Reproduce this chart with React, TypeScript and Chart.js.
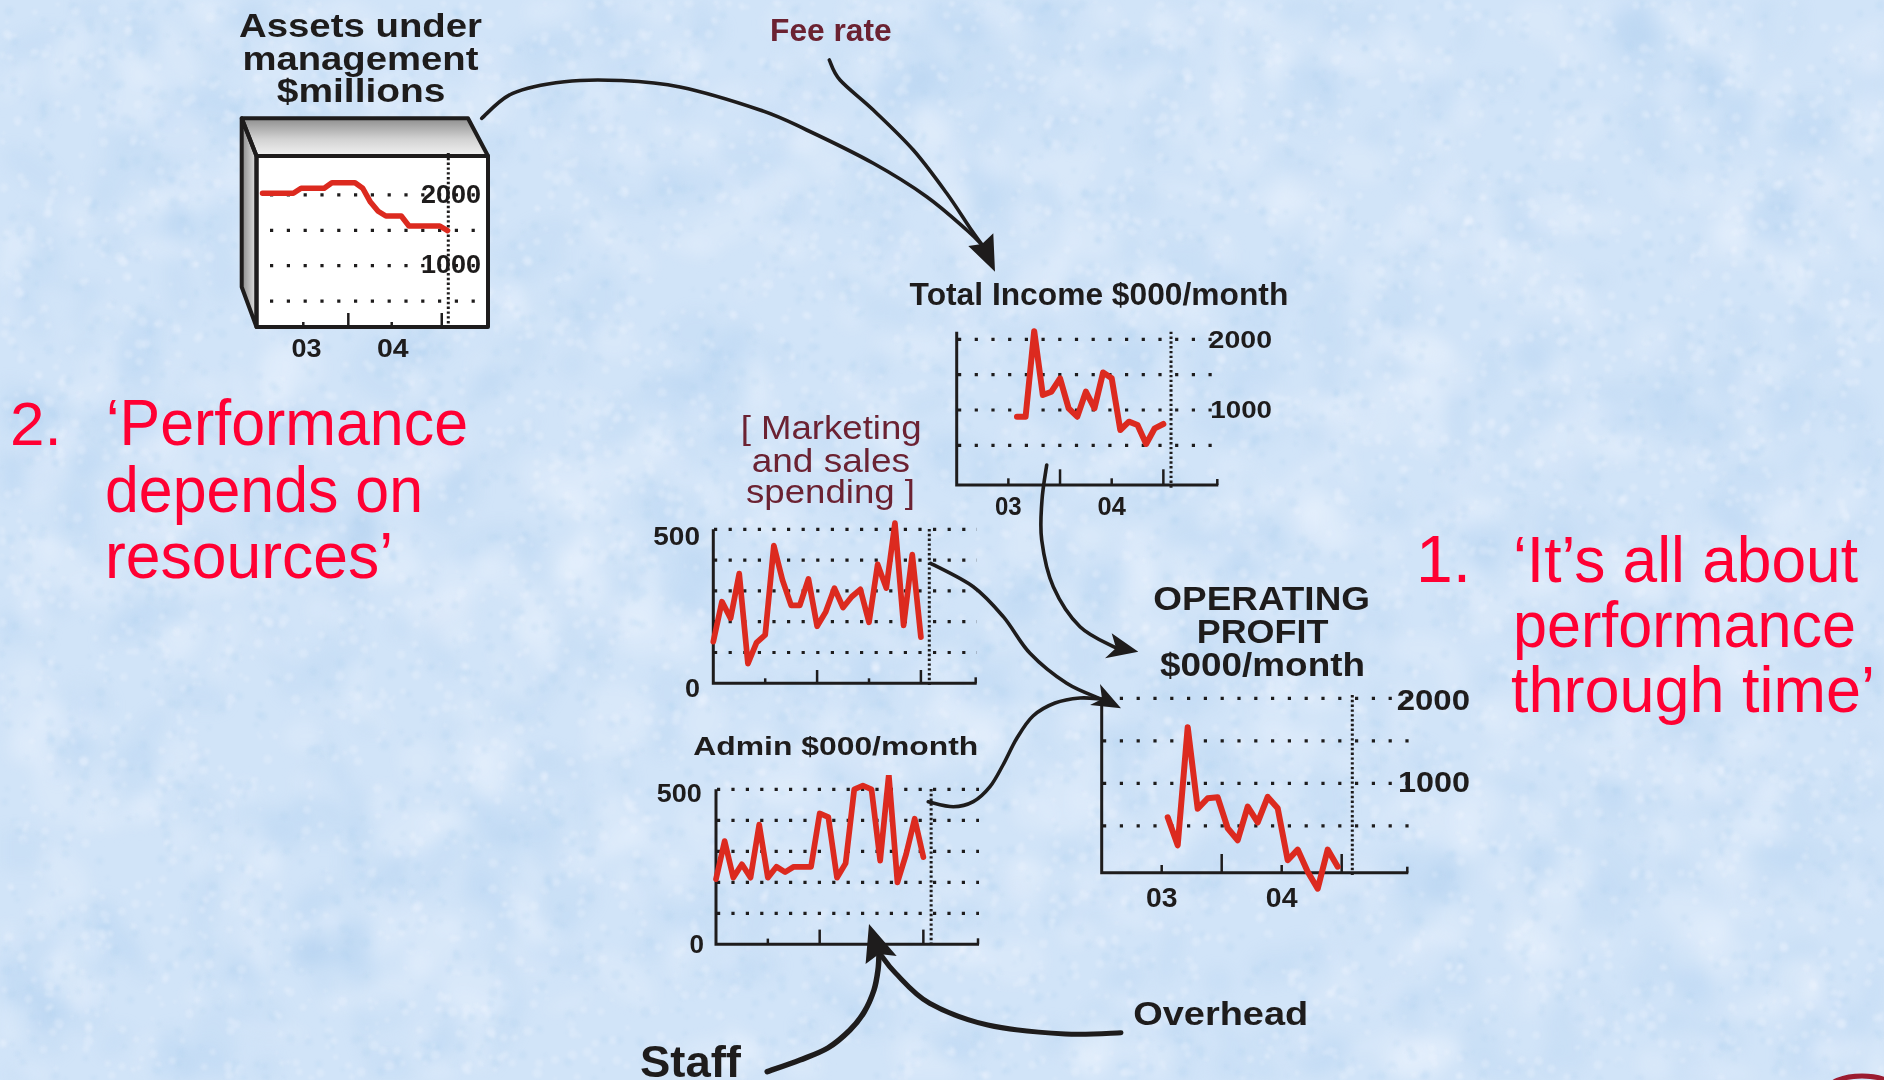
import React, { useEffect, useRef } from "react";
import { Chart, registerables } from "chart.js";

Chart.register(...registerables);

// ---------------------------------------------------------------------------
// Monthly series. Month index 0 = January 2003.
// ---------------------------------------------------------------------------
const MONTHS_JAN03_TO_JAN05 = [0, 1, 2, 3, 4, 5, 6, 7, 8, 9, 10, 11, 12, 13, 14, 15, 16, 17, 18, 19, 20, 21, 22, 23, 24];
const MONTHS_AUG03_TO_JAN05 = [7, 8, 9, 10, 11, 12, 13, 14, 15, 16, 17, 18, 19, 20, 21, 22, 23, 24];

// $ millions
const ASSETS_UNDER_MGMT = [2024, 2024, 2024, 2024, 2024, 2095, 2095, 2095, 2095, 2174, 2174, 2174, 2174, 2095, 1900, 1770, 1703, 1703, 1703, 1561, 1561, 1561, 1561, 1561, 1495];
// $000 / month
const TOTAL_INCOME = [905, 905, 2115, 1212, 1259, 1448, 1024, 905, 1259, 1024, 1530, 1448, 717, 835, 788, 520, 741, 802];
const MARKETING_SPEND = [135, 265, 211, 356, 64, 132, 157, 447, 335, 253, 253, 339, 185, 232, 309, 246, 281, 305, 198, 386, 309, 520, 188, 418, 150];
const ADMIN_COST = [210, 333, 215, 258, 215, 386, 215, 250, 233, 250, 250, 250, 422, 410, 215, 261, 500, 512, 500, 270, 547, 200, 290, 405, 281];
const OPERATING_PROFIT = [600, 270, 1660, 700, 824, 835, 471, 330, 725, 540, 840, 706, 95, 220, -40, -240, 220, 19];

const YEAR_LABELS = ["03", "04"];
const THOUSANDS_TICKS = [2000, 1000];
const SPEND_TICKS = [500, 0];

// ---------------------------------------------------------------------------
// Styling
// ---------------------------------------------------------------------------
const INK = "#1e1c1c";
const LINE_RED = "#dc2a1f";
const TEXT_RED = "#ff0033";
const MAROON = "#6b2232";
const FONT = '"Liberation Sans", Arial, Helvetica, sans-serif';

type Pt = [number, number];

interface MiniChartSpec {
  box: { left: number; top: number; width: number; height: number };
  area: { left: number; top: number; right: number; bottom: number };
  x: { min: number; max: number };
  y: { min: number; max: number };
  months: number[];
  values: number[];
  lineWidth: number;
  grid: { values: number[]; from: number; to: number; gap: number };
  now: { month: number; top: number; bottom: number };
  ticks: { at: number; long: boolean }[];
  tickLen: { short: number; long: number };
  yLabels: { value: number; text: string; right: number; dy: number; size: number; width: number }[];
  xLabels: { at: number; text: string; baseline: number; size: number; width: number }[];
  framed?: { topFace: Pt[]; sideFace: Pt[] };
}

function drawFitText(
  ctx: CanvasRenderingContext2D,
  text: string,
  x: number,
  y: number,
  size: number,
  width: number,
  align: "left" | "right" | "center"
) {
  ctx.save();
  ctx.font = `bold ${size}px ${FONT}`;
  const measured = ctx.measureText(text).width || 1;
  const k = width / measured;
  const left = align === "left" ? x : align === "right" ? x - width : x - width / 2;
  ctx.translate(left, y);
  ctx.scale(k, 1);
  ctx.fillStyle = INK;
  ctx.textAlign = "left";
  ctx.textBaseline = "alphabetic";
  ctx.fillText(text, 0, 0);
  ctx.restore();
}

function polygon(ctx: CanvasRenderingContext2D, pts: Pt[], ox: number, oy: number) {
  ctx.beginPath();
  pts.forEach(([px, py], i) => (i === 0 ? ctx.moveTo(px - ox, py - oy) : ctx.lineTo(px - ox, py - oy)));
  ctx.closePath();
}

// Axes, dotted grid, ticks, labels and the "now" marker for one small panel
function panelDecor(spec: MiniChartSpec) {
  return {
    id: "panelDecor",
    beforeDatasetsDraw(chart: any) {
      const ctx: CanvasRenderingContext2D = chart.ctx;
      const xs = chart.scales.x;
      const ys = chart.scales.y;
      const ca = chart.chartArea;
      const ox = spec.box.left;
      const oy = spec.box.top;
      ctx.save();

      if (spec.framed) {
        const side = ctx.createLinearGradient(spec.framed.sideFace[0][0] - ox, 0, spec.framed.sideFace[1][0] - ox, 0);
        side.addColorStop(0, "#8a8a8a");
        side.addColorStop(1, "#e4e4e4");
        polygon(ctx, spec.framed.sideFace, ox, oy);
        ctx.fillStyle = side;
        ctx.fill();
        const topG = ctx.createLinearGradient(0, spec.framed.topFace[0][1] - oy, 0, spec.framed.topFace[2][1] - oy);
        topG.addColorStop(0, "#8e8e8e");
        topG.addColorStop(0.55, "#d2d2d2");
        topG.addColorStop(1, "#f2f2f2");
        polygon(ctx, spec.framed.topFace, ox, oy);
        ctx.fillStyle = topG;
        ctx.fill();
        ctx.fillStyle = "#ffffff";
        ctx.fillRect(ca.left, ca.top, ca.right - ca.left, ca.bottom - ca.top);
      }

      // dotted horizontal grid
      ctx.strokeStyle = INK;
      ctx.lineWidth = 3.2;
      ctx.lineCap = "butt";
      ctx.setLineDash([3.2, spec.grid.gap - 3.2]);
      spec.grid.values.forEach((v) => {
        const y = ys.getPixelForValue(v);
        ctx.beginPath();
        ctx.moveTo(spec.grid.from - ox, y);
        ctx.lineTo(spec.grid.to - ox, y);
        ctx.stroke();
      });

      // "now" marker
      ctx.lineWidth = 3;
      ctx.setLineDash([2.4, 2.4]);
      const nx = xs.getPixelForValue(spec.now.month);
      ctx.beginPath();
      ctx.moveTo(nx, spec.now.top - oy);
      ctx.lineTo(nx, spec.now.bottom - oy);
      ctx.stroke();
      ctx.setLineDash([]);

      // axes
      if (spec.framed) {
        ctx.lineWidth = 4;
        ctx.lineJoin = "round";
        polygon(ctx, spec.framed.sideFace, ox, oy);
        ctx.stroke();
        polygon(ctx, spec.framed.topFace, ox, oy);
        ctx.stroke();
        ctx.strokeRect(ca.left, ca.top, ca.right - ca.left, ca.bottom - ca.top);
      } else {
        ctx.lineWidth = 3;
        ctx.lineJoin = "miter";
        ctx.beginPath();
        ctx.moveTo(ca.left, ca.top);
        ctx.lineTo(ca.left, ca.bottom);
        ctx.lineTo(ca.right, ca.bottom);
        ctx.stroke();
        ctx.lineWidth = 2.5;
        ctx.beginPath();
        ctx.moveTo(ca.right - 1, ca.bottom);
        ctx.lineTo(ca.right - 1, ca.bottom - 6);
        ctx.stroke();
      }

      // year ticks
      ctx.lineWidth = 2.5;
      spec.ticks.forEach((t) => {
        const x = xs.getPixelForValue(t.at);
        ctx.beginPath();
        ctx.moveTo(x, ca.bottom);
        ctx.lineTo(x, ca.bottom - (t.long ? spec.tickLen.long : spec.tickLen.short));
        ctx.stroke();
      });

      spec.yLabels.forEach((l) =>
        drawFitText(ctx, l.text, l.right - ox, ys.getPixelForValue(l.value) + l.dy, l.size, l.width, "right")
      );
      spec.xLabels.forEach((l) =>
        drawFitText(ctx, l.text, xs.getPixelForValue(l.at), l.baseline - oy, l.size, l.width, "center")
      );
      ctx.restore();
    },
  };
}

const ASSETS_PANEL: MiniChartSpec = {
  box: { left: 230, top: 105, width: 270, height: 262 },
  area: { left: 256.5, top: 156, right: 488, bottom: 327 },
  x: { min: -0.78, max: 29.25 },
  y: { min: 133, max: 2551 },
  months: MONTHS_JAN03_TO_JAN05,
  values: ASSETS_UNDER_MGMT,
  lineWidth: 5.5,
  grid: { values: [2000, 1500, 1000, 500], from: 270, to: 476, gap: 16.8 },
  now: { month: 24.1, top: 153, bottom: 330 },
  ticks: [
    { at: 5.29, long: false },
    { at: 11.13, long: true },
    { at: 16.76, long: false },
    { at: 23.25, long: true },
  ],
  tickLen: { short: 5, long: 14 },
  yLabels: [
    { value: THOUSANDS_TICKS[0], text: String(THOUSANDS_TICKS[0]), right: 481, dy: 7.6, size: 25, width: 60 },
    { value: THOUSANDS_TICKS[1], text: String(THOUSANDS_TICKS[1]), right: 481, dy: 7.2, size: 25, width: 60 },
  ],
  xLabels: [
    { at: 5.7, text: YEAR_LABELS[0], baseline: 356.7, size: 26, width: 30 },
    { at: 16.9, text: YEAR_LABELS[1], baseline: 356.7, size: 26, width: 31.6 },
  ],
  framed: {
    topFace: [[241.7, 118.3], [468, 118.3], [488, 156], [256.5, 156]],
    sideFace: [[241.7, 118.3], [256.5, 156], [256.5, 327], [241.7, 287]],
  },
};

const INCOME_PANEL: MiniChartSpec = {
  box: { left: 940, top: 318, width: 345, height: 207 },
  area: { left: 956.7, top: 331.7, right: 1218.3, bottom: 485 },
  x: { min: 0, max: 30.38 },
  y: { min: -60.8, max: 2107.5 },
  months: MONTHS_AUG03_TO_JAN05,
  values: TOTAL_INCOME,
  lineWidth: 6,
  grid: { values: [2000, 1500, 1000, 500], from: 958, to: 1219, gap: 16.7 },
  now: { month: 24.89, top: 331.7, bottom: 488 },
  ticks: [
    { at: 6, long: false },
    { at: 12, long: true },
    { at: 18, long: false },
    { at: 24, long: true },
  ],
  tickLen: { short: 6.7, long: 15.7 },
  yLabels: [
    { value: THOUSANDS_TICKS[0], text: String(THOUSANDS_TICKS[0]), right: 1272, dy: 9, size: 24, width: 63.4 },
    { value: THOUSANDS_TICKS[1], text: String(THOUSANDS_TICKS[1]), right: 1272, dy: 8.3, size: 24, width: 61.7 },
  ],
  xLabels: [
    { at: 6, text: YEAR_LABELS[0], baseline: 515, size: 25, width: 26.7 },
    { at: 18, text: YEAR_LABELS[1], baseline: 515, size: 25, width: 28.3 },
  ],
};

const MARKETING_PANEL: MiniChartSpec = {
  box: { left: 640, top: 515, width: 345, height: 190 },
  area: { left: 713.3, top: 529.3, right: 976.7, bottom: 683.3 },
  x: { min: 0, max: 30.45 },
  y: { min: 0, max: 500 },
  months: MONTHS_JAN03_TO_JAN05,
  values: MARKETING_SPEND,
  lineWidth: 5.7,
  grid: { values: [500, 400, 300, 200, 100], from: 714, to: 977, gap: 14.6 },
  now: { month: 24.97, top: 529, bottom: 686.7 },
  ticks: [
    { at: 6, long: false },
    { at: 12, long: true },
    { at: 18, long: false },
    { at: 24, long: true },
  ],
  tickLen: { short: 5, long: 13.3 },
  yLabels: [
    { value: SPEND_TICKS[0], text: String(SPEND_TICKS[0]), right: 700, dy: 15.7, size: 25.6, width: 46.7 },
    { value: SPEND_TICKS[1], text: String(SPEND_TICKS[1]), right: 700, dy: 13.4, size: 25.6, width: 15 },
  ],
  xLabels: [],
};

const ADMIN_PANEL: MiniChartSpec = {
  box: { left: 640, top: 775, width: 345, height: 185 },
  area: { left: 716, top: 789.3, right: 979, bottom: 944.3 },
  x: { min: 0, max: 30.44 },
  y: { min: 0, max: 500 },
  months: MONTHS_JAN03_TO_JAN05,
  values: ADMIN_COST,
  lineWidth: 5.7,
  grid: { values: [500, 400, 300, 200, 100], from: 717, to: 979, gap: 14.4 },
  now: { month: 24.9, top: 789, bottom: 947 },
  ticks: [
    { at: 6, long: false },
    { at: 12, long: true },
    { at: 18, long: false },
    { at: 24, long: true },
  ],
  tickLen: { short: 5.7, long: 14.7 },
  yLabels: [
    { value: SPEND_TICKS[0], text: String(SPEND_TICKS[0]), right: 701.7, dy: 12.4, size: 25.6, width: 45 },
    { value: SPEND_TICKS[1], text: String(SPEND_TICKS[1]), right: 704, dy: 9, size: 25.6, width: 14.5 },
  ],
  xLabels: [],
};

const PROFIT_PANEL: MiniChartSpec = {
  box: { left: 1085, top: 680, width: 395, height: 235 },
  area: { left: 1101.7, top: 698, right: 1408.3, bottom: 872.7 },
  x: { min: 0.4, max: 31.06 },
  y: { min: -51.8, max: 2003.5 },
  months: MONTHS_AUG03_TO_JAN05,
  values: OPERATING_PROFIT,
  lineWidth: 6,
  grid: { values: [2000, 1500, 1000, 500], from: 1103, to: 1409, gap: 16.8 },
  now: { month: 25.46, top: 695, bottom: 875 },
  ticks: [
    { at: 6.4, long: false },
    { at: 12.4, long: true },
    { at: 18.4, long: false },
    { at: 24.4, long: true },
  ],
  tickLen: { short: 7.7, long: 18.7 },
  yLabels: [
    { value: THOUSANDS_TICKS[0], text: String(THOUSANDS_TICKS[0]), right: 1470, dy: 11.7, size: 30, width: 73.3 },
    { value: THOUSANDS_TICKS[1], text: String(THOUSANDS_TICKS[1]), right: 1470, dy: 8.4, size: 30, width: 72 },
  ],
  xLabels: [
    { at: 6.4, text: YEAR_LABELS[0], baseline: 906.7, size: 28, width: 31.5 },
    { at: 18.4, text: YEAR_LABELS[1], baseline: 906.7, size: 28, width: 31.7 },
  ],
};

const PANELS = [ASSETS_PANEL, INCOME_PANEL, MARKETING_PANEL, ADMIN_PANEL, PROFIT_PANEL];

function MiniChart({ spec }: { spec: MiniChartSpec }) {
  const ref = useRef<HTMLCanvasElement | null>(null);
  useEffect(() => {
    if (!ref.current) return;
    const { box, area } = spec;
    const chart = new Chart(ref.current, {
      type: "line",
      data: {
        datasets: [
          {
            data: spec.months.map((m, i) => ({ x: m, y: spec.values[i] })),
            borderColor: LINE_RED,
            borderWidth: spec.lineWidth,
            pointRadius: 0,
            tension: 0,
            fill: false,
            clip: false,
            borderJoinStyle: "round",
            borderCapStyle: "round",
          } as any,
        ],
      },
      options: {
        responsive: false,
        animation: false,
        events: [],
        layout: {
          padding: {
            left: area.left - box.left,
            top: area.top - box.top,
            right: box.left + box.width - area.right,
            bottom: box.top + box.height - area.bottom,
          },
        },
        scales: {
          x: { type: "linear", display: false, min: spec.x.min, max: spec.x.max },
          y: { type: "linear", display: false, min: spec.y.min, max: spec.y.max },
        },
        plugins: { legend: { display: false }, tooltip: { enabled: false } },
      },
      plugins: [panelDecor(spec)],
    });
    return () => chart.destroy();
  }, [spec]);
  return (
    <canvas
      ref={ref}
      width={spec.box.width}
      height={spec.box.height}
      style={{ position: "absolute", left: spec.box.left, top: spec.box.top }}
    />
  );
}

// Mottled blue paper backdrop
function Backdrop() {
  const ref = useRef<HTMLCanvasElement | null>(null);
  useEffect(() => {
    const c = ref.current;
    if (!c) return;
    const ctx = c.getContext("2d")!;
    ctx.fillStyle = "#d1e4f8";
    ctx.fillRect(0, 0, 1884, 1080);
    const spots = document.createElement("canvas");
    spots.width = 1884;
    spots.height = 1080;
    const s = spots.getContext("2d")!;
    let seed = 20240611;
    const rnd = () => {
      seed |= 0;
      seed = (seed + 0x6d2b79f5) | 0;
      let t = Math.imul(seed ^ (seed >>> 15), 1 | seed);
      t = (t + Math.imul(t ^ (t >>> 7), 61 | t)) ^ t;
      return ((t ^ (t >>> 14)) >>> 0) / 4294967296;
    };
    // broad soft patches
    for (let i = 0; i < 1400; i++) {
      const light = rnd() < 0.5;
      s.fillStyle = light ? "rgba(240,246,254,0.22)" : "rgba(172,206,240,0.18)";
      s.beginPath();
      s.ellipse(rnd() * 1884, rnd() * 1080, 10 + rnd() * 30, 6 + rnd() * 18, rnd() * Math.PI, 0, Math.PI * 2);
      s.fill();
    }
    ctx.filter = "blur(7px)";
    ctx.drawImage(spots, 0, 0);
    // fine grain
    s.clearRect(0, 0, 1884, 1080);
    for (let i = 0; i < 9000; i++) {
      const light = rnd() < 0.55;
      s.fillStyle = light ? "rgba(245,249,255,0.25)" : "rgba(175,208,242,0.2)";
      s.beginPath();
      s.arc(rnd() * 1884, rnd() * 1080, 1.5 + rnd() * 3.5, 0, Math.PI * 2);
      s.fill();
    }
    ctx.filter = "blur(1.5px)";
    ctx.drawImage(spots, 0, 0);
    ctx.filter = "none";
  }, []);
  return <canvas ref={ref} width={1884} height={1080} style={{ position: "absolute", left: 0, top: 0 }} />;
}

// Catmull-Rom through the given points, as cubic Bezier segments
function smoothPath(pts: Pt[]): string {
  let d = `M ${pts[0][0]} ${pts[0][1]}`;
  for (let i = 0; i < pts.length - 1; i++) {
    const p0 = pts[i - 1] || pts[i];
    const p1 = pts[i];
    const p2 = pts[i + 1];
    const p3 = pts[i + 2] || p2;
    const c1 = [p1[0] + (p2[0] - p0[0]) / 6, p1[1] + (p2[1] - p0[1]) / 6];
    const c2 = [p2[0] - (p3[0] - p1[0]) / 6, p2[1] - (p3[1] - p1[1]) / 6];
    d += ` C ${c1[0]} ${c1[1]} ${c2[0]} ${c2[1]} ${p2[0]} ${p2[1]}`;
  }
  return d;
}

const LINKS: { pts: Pt[]; width: number }[] = [
  // assets -> income
  { pts: [[481.7, 118.3], [512.7, 93.3], [564.4, 81.7], [620, 80.5], [680, 87], [760, 110], [806.7, 130], [873.3, 163.3], [926.7, 196.7], [966.7, 230], [983, 246]], width: 3.6 },
  // fee rate -> income
  { pts: [[829.3, 60], [840, 80], [873.3, 110], [913.3, 150], [946.7, 193.3], [970, 228], [983, 246]], width: 3.6 },
  // income -> profit
  { pts: [[1046.7, 465], [1042, 500], [1041.7, 540], [1053.3, 586.7], [1080, 626.7], [1116, 648]], width: 3.6 },
  // marketing -> profit
  { pts: [[930.7, 563.3], [973.3, 586.7], [1003.3, 616.7], [1030, 653.3], [1066.7, 683.3], [1101, 699]], width: 3.6 },
  // admin -> profit
  { pts: [[928.3, 801.7], [953.3, 806.7], [973.3, 801.7], [990, 786.7], [1003, 765], [1017, 738], [1033, 716], [1055, 703], [1080, 698], [1101, 699]], width: 3.6 },
  // staff -> admin
  { pts: [[767.2, 1071.7], [800, 1060], [827.8, 1048], [850, 1030], [864.2, 1012], [874, 990], [878, 970], [879, 954]], width: 5.5 },
  // overhead -> admin
  { pts: [[1121, 1032.7], [1065.3, 1034], [987.8, 1025], [929.6, 1003.3], [895.7, 973.3], [881, 955]], width: 5 },
];

const HEADS: Pt[][] = [
  [[995, 271.7], [968.3, 246], [982, 244], [993.3, 233.3]],
  [[1138.3, 651.7], [1111.7, 633.3], [1116, 648], [1105, 658.3]],
  [[1121, 708.3], [1100, 684], [1102, 699], [1090, 705]],
  [[869, 924], [865.6, 964], [879, 954], [896.7, 956]],
];

interface TextItem {
  text: string;
  x: number;
  y: number;
  size: number;
  width?: number;
  bold: boolean;
  color: string;
}

const TEXTS: TextItem[] = [
  { text: "Assets under", x: 239, y: 36.7, size: 33, width: 243, bold: true, color: INK },
  { text: "management", x: 242.4, y: 69.5, size: 33, width: 236, bold: true, color: INK },
  { text: "$millions", x: 276.8, y: 101.7, size: 33, width: 168.7, bold: true, color: INK },
  { text: "Fee rate", x: 770, y: 40.7, size: 31, width: 121.7, bold: true, color: MAROON },
  { text: "Total Income $000/month", x: 909.6, y: 305, size: 31, width: 378.7, bold: true, color: INK },
  { text: "[ Marketing", x: 740.7, y: 439.3, size: 34, width: 181, bold: false, color: MAROON },
  { text: "and sales", x: 751.7, y: 471.5, size: 34, width: 158.3, bold: false, color: MAROON },
  { text: "spending ]", x: 746, y: 502.5, size: 34, width: 169, bold: false, color: MAROON },
  { text: "Admin $000/month", x: 693.3, y: 755, size: 26, width: 285, bold: true, color: INK },
  { text: "OPERATING", x: 1153.3, y: 610, size: 32.5, width: 216.7, bold: true, color: INK },
  { text: "PROFIT", x: 1196.7, y: 642.7, size: 32.5, width: 131.7, bold: true, color: INK },
  { text: "$000/month", x: 1160, y: 676, size: 32.5, width: 205, bold: true, color: INK },
  { text: "2.", x: 10, y: 445, size: 62, bold: false, color: TEXT_RED },
  { text: "\u2018Performance", x: 106, y: 445, size: 64, width: 362, bold: false, color: TEXT_RED },
  { text: "depends on", x: 105, y: 511.7, size: 64, width: 318, bold: false, color: TEXT_RED },
  { text: "resources\u2019", x: 105, y: 578.3, size: 64, width: 288, bold: false, color: TEXT_RED },
  { text: "1.", x: 1416, y: 581.7, size: 66, bold: false, color: TEXT_RED },
  { text: "\u2018It\u2019s all about", x: 1513, y: 581.7, size: 65, width: 345, bold: false, color: TEXT_RED },
  { text: "performance", x: 1513, y: 646.7, size: 65, width: 343, bold: false, color: TEXT_RED },
  { text: "through time\u2019", x: 1511, y: 711.7, size: 65, width: 364, bold: false, color: TEXT_RED },
  { text: "Overhead", x: 1133.2, y: 1025, size: 32.5, width: 175, bold: true, color: INK },
  { text: "Staff", x: 640, y: 1076.7, size: 44, width: 101, bold: true, color: INK },
];

function Overlay() {
  return (
    <svg width={1884} height={1080} style={{ position: "absolute", left: 0, top: 0 }}>
      {LINKS.map((l, i) => (
        <path key={`l${i}`} d={smoothPath(l.pts)} fill="none" stroke={INK} strokeWidth={l.width} strokeLinecap="round" />
      ))}
      {HEADS.map((h, i) => (
        <polygon key={`h${i}`} points={h.map((p) => p.join(",")).join(" ")} fill={INK} />
      ))}
      {TEXTS.map((t, i) => (
        <text
          key={`t${i}`}
          x={t.x}
          y={t.y}
          fontFamily={FONT}
          fontSize={t.size}
          fontWeight={t.bold ? 700 : 400}
          fill={t.color}
          {...(t.width ? { textLength: t.width, lengthAdjust: "spacingAndGlyphs" } : {})}
        >
          {t.text}
        </text>
      ))}
      <ellipse cx={1862} cy={1090} rx={34} ry={14} fill="none" stroke="#9b1b30" strokeWidth={5} />
    </svg>
  );
}

export default function App() {
  return (
    <div
      style={{
        position: "fixed",
        left: 0,
        top: 0,
        width: 1884,
        height: 1080,
        overflow: "hidden",
        fontFamily: FONT,
      }}
    >
      <Backdrop />
      {PANELS.map((p, i) => (
        <MiniChart key={i} spec={p} />
      ))}
      <Overlay />
    </div>
  );
}
